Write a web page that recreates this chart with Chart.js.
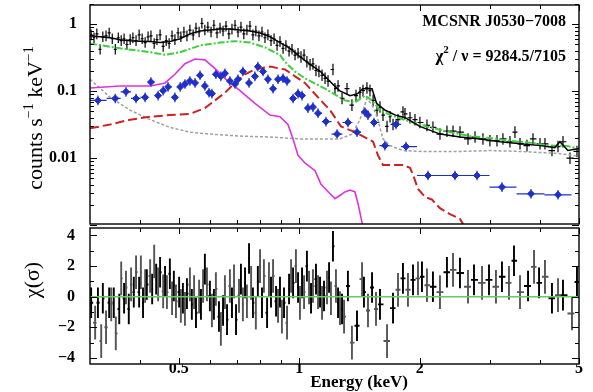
<!DOCTYPE html>
<html>
<head>
<meta charset="utf-8">
<script src="https://cdn.jsdelivr.net/npm/chart.js@4.4.1/dist/chart.umd.min.js"></script>
<style>
  body { margin: 0; background: #fff; width: 593px; height: 392px; overflow: hidden; position: relative; }
  canvas { position: absolute; left: 0; }
  #spec { top: 0; }
  #resid { top: 227px; }
</style>
</head>
<body>
<canvas id="spec" width="593" height="229"></canvas>
<canvas id="resid" width="593" height="165"></canvas>
<script>
const SERIF = "'Liberation Serif', 'Times New Roman', serif";

// ---- spectrum: data (black) ----
const blackE = [0.302,0.307,0.312,0.318,0.323,0.329,0.335,0.341,0.347,0.353,0.359,0.365,0.371,0.378,0.384,0.391,0.398,0.405,0.412,0.419,
  0.426,0.434,0.441,0.449,0.457,0.465,0.473,0.481,0.489,0.498,0.506,0.515,0.524,0.533,0.543,0.552,0.562,0.571,0.581,0.591,
  0.602,0.612,0.623,0.634,0.645,0.656,0.667,0.679,0.691,0.703,0.715,0.727,0.740,0.753,0.766,0.779,0.793,0.807,0.821,0.835,
  0.850,0.865,0.880,0.895,0.911,0.926,0.943,0.959,0.976,0.993,
  1.010,1.028,1.045,1.064,1.082,1.101,1.120,1.140,1.160,1.180,1.214,1.228,1.250,1.279,1.316,1.354,1.386,1.418,1.443,1.476,
  1.502,1.529,1.564,1.591,1.619,1.657,1.686,1.715,1.765,1.816,1.837,1.891,1.946,2.002,2.085,2.158,2.247,2.339,2.422,2.521,
  2.640,2.749,2.877,2.995,3.119,3.228,3.361,3.459,3.561,3.707,3.837,3.995,4.111,4.280,4.431,4.560,4.747,4.942];
const blackRate = [0.695,0.629,0.718,0.423,0.650,0.672,0.742,0.608,0.423,0.629,0.569,0.608,0.499,0.589,0.629,0.569,0.695,0.608,0.533,0.650,
  0.672,0.516,0.589,0.695,0.467,0.569,0.516,0.672,0.589,0.742,0.650,0.767,0.672,0.820,0.695,0.876,0.767,1.034,0.820,0.905,
  0.767,0.967,0.742,0.876,0.793,0.936,0.718,0.847,0.967,0.767,0.905,0.718,0.820,0.936,0.695,0.793,0.672,0.767,0.629,0.695,
  0.569,0.608,0.483,0.551,0.437,0.483,0.396,0.423,0.347,0.370,
  0.324,0.347,0.275,0.249,0.256,0.204,0.197,0.173,0.156,0.142,0.211,0.109,0.120,0.078,0.109,0.062,0.086,0.095,0.102,0.112,
  0.102,0.073,0.052,0.058,0.044,0.0298,0.0416,0.0319,0.0376,0.049,0.046,0.0402,0.0376,0.0341,0.0309,0.0289,0.0229,0.0253,0.0253,0.0245,
  0.0194,0.0207,0.0194,0.0182,0.0182,0.0194,0.0176,0.0245,0.0164,0.0154,0.0194,0.0164,0.0164,0.0130,0.0149,0.0176,0.0100,0.0126];

// ---- total model (black line) ----
const modelE = [0.30,0.318,0.337,0.357,0.378,0.40,0.424,0.449,0.475,0.504,0.533,0.565,0.598,0.634,0.671,0.711,0.753,0.798,0.845,0.895,
  0.948,1.00,1.06,1.13,1.19,1.26,1.34,1.40,1.44,1.52,1.56,1.64,1.74,1.84,2.0,2.25,2.52,2.83,3.18,3.57,4.0,4.35,4.48,4.69,5.0];
const modelRate = [0.672,0.650,0.629,0.589,0.569,0.56,0.551,0.533,0.551,0.608,0.718,0.793,0.820,0.847,0.847,0.820,0.793,0.742,0.650,0.533,
  0.437,0.335,0.256,0.197,0.142,0.102,0.086,0.092,0.109,0.109,0.066,0.052,0.044,0.0402,0.0298,0.0229,0.0207,0.0194,0.0176,0.0164,
  0.0154,0.0144,0.0176,0.0130,0.0139];

// ---- model components ----
const greenE = [0.30,0.357,0.424,0.462,0.504,0.565,0.634,0.691,0.753,0.821,0.895,0.921,0.976,1.033,1.16,1.30,1.378,1.459,1.52,1.59,
  1.69,1.89,2.12,2.38,2.67,3.0,3.36,3.77,4.23,4.61,5.0];
const greenRate = [0.516,0.437,0.383,0.350,0.383,0.483,0.533,0.56,0.533,0.452,0.347,0.275,0.197,0.156,0.109,0.073,0.068,0.086,0.073,0.052,
  0.044,0.0352,0.0289,0.0245,0.0214,0.0200,0.0182,0.0170,0.0154,0.0154,0.0139];

const magentaE = [0.30,0.357,0.424,0.462,0.489,0.518,0.549,0.581,0.616,0.652,0.711,0.775,0.845,0.895,0.937,0.965,0.993,1.033,1.095,1.133,
  1.194,1.228,1.271,1.30,1.339,1.378,1.402,1.435,1.45];
const magentaRate = [0.112,0.120,0.120,0.133,0.179,0.257,0.303,0.294,0.218,0.156,0.102,0.066,0.044,0.0416,0.0319,0.0194,0.0110,0.00848,0.00650,0.00409,
  0.00294,0.00249,0.00284,0.00313,0.00335,0.00313,0.00211,0.00109,0.00070];

const redE = [0.30,0.337,0.378,0.424,0.475,0.533,0.581,0.616,0.652,0.691,0.732,0.775,0.845,0.921,0.976,1.033,1.114,1.194,1.271,1.378,
  1.485,1.529,1.573,1.619,1.816,1.891,1.924,1.980,2.061,2.146,2.247,2.38,2.52,2.61];
const redRate = [0.0279,0.0319,0.0376,0.0416,0.044,0.0459,0.056,0.073,0.095,0.133,0.179,0.211,0.233,0.211,0.167,0.133,0.081,0.052,0.0298,0.0245,
  0.0194,0.0176,0.0110,0.00793,0.00793,0.00718,0.00569,0.00347,0.00265,0.00240,0.00179,0.00146,0.00124,0.00088];

const greyE = [0.30,0.337,0.378,0.424,0.475,0.533,0.598,0.711,0.845,1.004,1.264,1.354,1.418,1.476,1.52,1.564,1.619,1.686,1.816,2.038,
  2.52,3.0,3.57,4.41,5.0];
const greyRate = [0.151,0.081,0.052,0.0376,0.0289,0.0245,0.0229,0.0214,0.0207,0.0194,0.0194,0.0229,0.0376,0.078,0.062,0.0416,0.0194,0.0154,0.0130,0.0126,
  0.0126,0.0130,0.0126,0.0118,0.0107];

// ---- second spectrum (blue points) ----
const blueE = [0.314,0.347,0.369,0.391,0.412,0.426,0.444,0.457,0.470,0.489,0.504,0.518,0.533,0.549,0.565,0.581,0.595,0.605,0.619,0.637,
  0.652,0.671,0.691,0.703,0.723,0.749,0.775,0.788,0.812,0.835,0.860,0.885,0.911,0.932,0.965,0.993,1.016,1.051,1.082,1.114,
  1.166,1.243,1.323,1.394,1.459,1.485,1.537,1.637,1.745,1.848,2.097,2.449,2.781,3.210,3.793,4.431];
const blueRate = [0.073,0.078,0.098,0.078,0.081,0.137,0.086,0.102,0.116,0.081,0.116,0.128,0.142,0.133,0.173,0.120,0.095,0.092,0.179,0.167,
  0.185,0.142,0.128,0.151,0.197,0.133,0.167,0.233,0.197,0.151,0.109,0.151,0.156,0.142,0.078,0.092,0.086,0.056,0.058,0.047,
  0.0352,0.0229,0.0341,0.0245,0.049,0.044,0.0341,0.0154,0.0319,0.0149,0.00551,0.00551,0.00551,0.00370,0.00294,0.00284];

// ---- residuals ----
const resE = [0.302,0.309,0.314,0.320,0.323,0.329,0.335,0.339,0.344,0.348,0.355,0.359,0.365,0.369,0.375,0.380,0.386,0.391,0.398,0.402,
  0.407,0.412,0.416,0.424,0.429,0.434,0.439,0.444,0.449,0.457,0.462,0.467,0.475,0.481,0.486,0.492,0.501,0.506,0.512,0.518,
  0.524,0.533,0.539,0.546,0.552,0.562,0.568,0.575,0.581,0.588,0.598,0.605,0.612,0.619,0.630,0.637,0.645,0.652,0.660,0.671,
  0.679,0.687,0.695,0.707,0.715,0.723,0.732,0.740,0.749,0.758,0.766,0.779,0.788,0.798,0.807,0.816,0.831,0.840,0.850,0.860,
  0.875,0.885,0.895,0.905,0.916,0.932,0.943,0.954,0.965,0.981,0.993,1.004,1.016,1.028,1.045,1.058,1.070,1.082,1.101,1.114,
  1.127,1.140,1.153,1.173,1.187,1.200,1.214,1.235,1.250,1.264,1.279,1.294,1.323,1.354,1.394,1.435,1.451,1.485,1.520,1.555,
  1.591,1.657,1.715,1.765,1.816,1.869,1.924,1.980,2.026,2.085,2.158,2.247,2.339,2.422,2.521,2.640,2.733,2.862,2.979,3.101,
  3.210,3.342,3.440,3.561,3.729,3.860,3.973,4.111,4.280,4.431,4.560,4.802,4.942];
const resChi = [-0.4,-1.7,-0.4,-2.9,-0.1,-2.0,-0.4,-0.5,-0.4,-2.4,-0.8,1.2,-0.1,0.6,-0.8,0.8,0.3,1.6,0.3,1.6,
  -0.4,0.7,0.8,1.35,0.5,2.3,1.15,0.8,1.6,0.35,1.0,0.3,1.5,-0.1,0.7,-0.3,0.3,-0.6,-0.1,-0.8,
  0.2,0.8,-0.5,0.3,-1.05,0,-0.5,0.7,1.8,0.8,0.05,-0.9,-0.5,0.5,-1.3,-2.1,-0.9,0.3,-1.5,0.7,
  -0.4,1.0,-1.5,0.05,1.15,-0.5,0.9,-0.3,2.5,0.9,-0.4,-1.05,1.0,2.0,-0.4,1.35,-1.05,1.15,0.3,1.35,
  -0.3,-0.6,0.3,-1.3,-0.4,-1.7,0.5,1.35,0.9,2.0,0.6,-0.4,0.9,0.3,2.0,0.6,-0.1,0.7,1.15,0.3,
  0.3,-0.4,0.05,0.6,1.25,-0.1,3.3,0.7,-0.4,-0.75,-0.8,-1.3,0.7,-3.0,-1.9,1.15,0.3,-0.9,0.6,-0.8,
  -0.5,-2.9,-0.75,0.45,1.2,0.45,1.1,1.2,1.3,0.75,0.65,0.3,1.6,1.75,1.55,0.65,1.1,0.9,1.1,0.65,
  1.3,0.9,2.35,0.3,0.7,1.95,0.9,1.3,-0.1,0.1,0.1,-1.1,0.95];

// ticks
const xMajor = [0.5, 1, 2, 5];
const xMinor = [0.4, 0.6, 0.7, 0.8, 0.9, 3, 4];
const yTopLabels = [0.01, 0.1, 1];
const yResLabels = [-4, -2, 0, 2, 4];

const yTopMajor = [0.001, 0.01, 0.1, 1];
const yTopMinor = [];
yTopMajor.forEach(d => { for (let k = 2; k <= 9; k++) if (d * k <= 2) yTopMinor.push(d * k); });
const yResMinor = [-3, -1, 1, 3];

function line(xs, ys) { return xs.map((x, i) => ({ x: x, y: ys[i] })); }

// horizontal bar = half way (in log) to neighbouring bins
function withErrors(xs, ys, yerr) {
  return xs.map((x, i) => {
    const prev = i > 0 ? xs[i - 1] : x * x / xs[i + 1];
    const next = i < xs.length - 1 ? xs[i + 1] : x * x / xs[i - 1];
    const e = yerr(x, ys[i]);
    return { x: x, y: ys[i], xlo: Math.sqrt(prev * x), xhi: Math.sqrt(x * next), ylo: e[0], yhi: e[1] };
  });
}

const errorBars = {
  id: 'errorBars',
  beforeDatasetsDraw(chart) {
    const { ctx, chartArea: a, scales } = chart;
    ctx.save();
    ctx.beginPath();
    ctx.rect(a.left, a.top, a.right - a.left, a.bottom - a.top);
    ctx.clip();
    chart.data.datasets.slice().reverse().forEach(ds => {
      if (!ds.bars) return;
      ctx.strokeStyle = ds.barColor;
      ctx.lineWidth = ds.barWidth || 1;
      ctx.beginPath();
      ds.data.forEach(p => {
        const px = scales.x.getPixelForValue(p.x);
        const py = scales.y.getPixelForValue(p.y);
        ctx.moveTo(scales.x.getPixelForValue(p.xlo), py);
        ctx.lineTo(scales.x.getPixelForValue(p.xhi), py);
        ctx.moveTo(px, scales.y.getPixelForValue(p.ylo));
        ctx.lineTo(px, scales.y.getPixelForValue(p.yhi));
      });
      ctx.stroke();
    });
    ctx.restore();
  }
};

const frame = {
  id: 'frame',
  afterDraw(chart, args, opts) {
    const { ctx, chartArea: a, scales } = chart;
    ctx.save();
    ctx.strokeStyle = '#000';
    ctx.lineWidth = 1.4;
    ctx.strokeRect(a.left, a.top, a.right - a.left, a.bottom - a.top);
    ctx.lineWidth = 1;
    ctx.beginPath();
    const xt = (v, len) => {
      const p = Math.round(scales.x.getPixelForValue(v)) + 0.5;
      ctx.moveTo(p, a.top); ctx.lineTo(p, a.top + len);
      ctx.moveTo(p, a.bottom); ctx.lineTo(p, a.bottom - len);
    };
    const yt = (v, len) => {
      const p = Math.round(scales.y.getPixelForValue(v)) + 0.5;
      ctx.moveTo(a.left, p); ctx.lineTo(a.left + len, p);
      ctx.moveTo(a.right, p); ctx.lineTo(a.right - len, p);
    };
    xMajor.forEach(v => xt(v, 6));
    xMinor.forEach(v => xt(v, 4));
    opts.yMajor.forEach(v => yt(v, 7));
    opts.yMinor.forEach(v => yt(v, 4));
    ctx.stroke();
    ctx.restore();
  }
};

// text run with optional superscripts: [text, font, dy]
function richWidth(ctx, parts) {
  let w = 0;
  parts.forEach(p => { ctx.font = p[1] + ' ' + SERIF; w += ctx.measureText(p[0]).width; });
  return w;
}
function drawRich(ctx, parts, x, y) {
  parts.forEach(p => {
    ctx.font = p[1] + ' ' + SERIF;
    ctx.fillText(p[0], x, y + p[2]);
    x += ctx.measureText(p[0]).width;
  });
}

const specText = {
  id: 'specText',
  afterDraw(chart) {
    const ctx = chart.ctx;
    ctx.save();
    ctx.fillStyle = '#000';
    ctx.textBaseline = 'alphabetic';
    let parts = [['MCSNR J0530\u22127008', 'bold 16px', 0]];
    drawRich(ctx, parts, 566 - richWidth(ctx, parts), 26);
    parts = [['\u03c7', 'bold 17px', 0], ['2', 'bold 11px', -8], [' / \u03bd = 9284.5/7105', 'bold 16px', 0]];
    drawRich(ctx, parts, 566 - richWidth(ctx, parts), 61);
    ctx.translate(42, 118);
    ctx.rotate(-Math.PI / 2);
    parts = [['counts s', '22px', 0], ['\u22121', '14px', -9], [' keV', '22px', 0], ['\u22121', '14px', -9]];
    drawRich(ctx, parts, -richWidth(ctx, parts) / 2, 0);
    ctx.restore();
  }
};

const residText = {
  id: 'residText',
  afterDraw(chart) {
    const ctx = chart.ctx;
    ctx.save();
    ctx.fillStyle = '#000';
    ctx.font = 'bold 17px ' + SERIF;
    ctx.textAlign = 'center';
    ctx.fillText('Energy (keV)', 359, 160);
    ctx.translate(39, 53);
    ctx.rotate(-Math.PI / 2);
    ctx.font = '22px ' + SERIF;
    ctx.fillText('\u03c7(\u03c3)', 0, 0);
    ctx.restore();
  }
};

const tickFont = { family: SERIF, size: 16, weight: 'bold' };

new Chart(document.getElementById('spec'), {
  type: 'line',
  data: {
    datasets: [
      { data: line(modelE, modelRate), borderColor: '#000', borderWidth: 1.5, pointRadius: 0 },
      { data: withErrors(blackE, blackRate, (x, y) => x < 1 ? [y / 1.2, y * 1.2] : [y / 1.22, y * 1.22]),
        showLine: false, pointRadius: 0, bars: true, barColor: '#000', barWidth: 1.2 },
      { data: withErrors(blueE, blueRate, (x, y) => [y / 1.18, y * 1.18]),
        showLine: false, pointStyle: 'rectRot', pointRadius: 3.5, backgroundColor: '#1f2fcc', borderColor: '#1f2fcc',
        bars: true, barColor: '#1f2fcc', barWidth: 1.2 },
      { data: line(greenE, greenRate), borderColor: '#3ccf3c', borderWidth: 2, borderDash: [7, 2, 2, 2], pointRadius: 0 },
      { data: line(magentaE, magentaRate), borderColor: '#dd33dd', borderWidth: 1.6, pointRadius: 0 },
      { data: line(redE, redRate), borderColor: '#cc2222', borderWidth: 2, borderDash: [9, 4], pointRadius: 0 },
      { data: line(greyE, greyRate), borderColor: '#a0a0a0', borderWidth: 1.5, borderDash: [3, 2], pointRadius: 0 }
    ]
  },
  options: {
    responsive: false,
    animation: false,
    layout: { padding: { top: 1, right: 14, bottom: 1, left: 0 } },
    plugins: {
      legend: { display: false },
      tooltip: { enabled: false },
      frame: { yMajor: yTopMajor, yMinor: yTopMinor }
    },
    scales: {
      x: { type: 'logarithmic', min: 0.3, max: 5, display: false },
      y: {
        type: 'logarithmic', min: 0.00104, max: 1.94,
        grid: { display: false }, border: { display: false },
        afterBuildTicks: s => { s.ticks = yTopLabels.map(v => ({ value: v })); },
        ticks: { callback: v => String(v), font: tickFont, color: '#000', padding: 5 },
        afterFit: s => { s.width = 90; s.paddingTop = 0; s.paddingBottom = 0; }
      }
    }
  },
  plugins: [errorBars, frame, specText]
});

const resBlack = withErrors(resE, resChi, (x, y) => [y - 1, y + 1]).filter((p, i) => i % 2 === 0);
const resGrey = withErrors(resE, resChi, (x, y) => [y - 1.1, y + 1.1]).filter((p, i) => i % 2 === 1);

new Chart(document.getElementById('resid'), {
  type: 'line',
  data: {
    datasets: [
      { data: [{ x: 0.3, y: 0 }, { x: 5, y: 0 }], borderColor: '#5fcf5f', borderWidth: 1.5, pointRadius: 0 },
      { data: resBlack, showLine: false, pointRadius: 0, bars: true, barColor: '#000', barWidth: 1.9 },
      { data: resGrey, showLine: false, pointRadius: 0, bars: true, barColor: '#555', barWidth: 1.9 }
    ]
  },
  options: {
    responsive: false,
    animation: false,
    layout: { padding: { top: 1, right: 14, bottom: 0, left: 0 } },
    plugins: {
      legend: { display: false },
      tooltip: { enabled: false },
      frame: { yMajor: yResLabels, yMinor: yResMinor }
    },
    scales: {
      x: {
        type: 'logarithmic', min: 0.3, max: 5,
        grid: { display: false, drawTicks: false }, border: { display: false },
        afterBuildTicks: s => { s.ticks = xMajor.map(v => ({ value: v })); },
        ticks: { callback: v => String(v), font: tickFont, color: '#000', padding: -5, maxRotation: 0, autoSkip: false },
        afterFit: s => { s.height = 28; s.paddingLeft = 0; s.paddingRight = 0; }
      },
      y: {
        type: 'linear', min: -4.40, max: 4.49,
        grid: { display: false }, border: { display: false },
        afterBuildTicks: s => { s.ticks = yResLabels.map(v => ({ value: v })); },
        ticks: { callback: v => v < 0 ? '\u2212' + Math.abs(v) : String(v), font: tickFont, color: '#000', padding: 7 },
        afterFit: s => { s.width = 90; s.paddingTop = 0; s.paddingBottom = 0; }
      }
    }
  },
  plugins: [errorBars, frame, residText]
});
</script>
</body>
</html>
